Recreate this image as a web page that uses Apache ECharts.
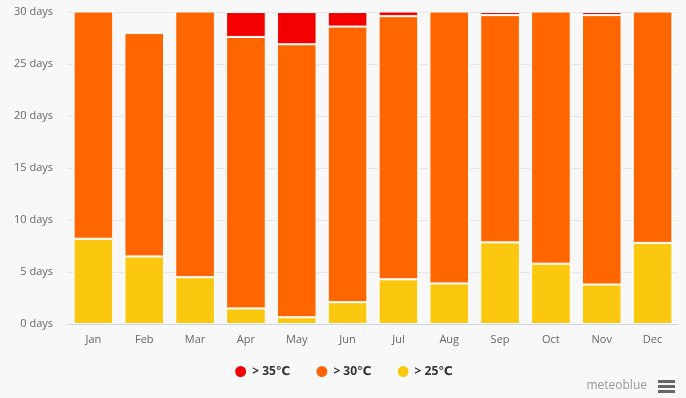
<!DOCTYPE html>
<html lang="en">
<head>
    <meta charset="UTF-8">
    <title>Hot days per month</title>
    <script src="https://cdn.jsdelivr.net/npm/echarts@6/dist/echarts.min.js"></script>
    <style>
        html, body { margin: 0; padding: 0; background: #f8f8f8; }
    </style>
</head>
<body>
    <div id="main" style="width: 686px;height: 398px"></div>
    <script type="text/javascript">
        var months = ['Jan', 'Feb', 'Mar', 'Apr', 'May', 'Jun', 'Jul', 'Aug', 'Sep', 'Oct', 'Nov', 'Dec'];
        // days per month above each threshold (stacked: yellow + orange + red)
        var over25 = [8.2, 6.5, 4.5, 1.5, 0.65, 2.1, 4.3, 3.9, 7.85, 5.8, 3.8, 7.8];
        var over30 = [22.8, 21.5, 26.5, 26.1, 26.25, 26.5, 25.3, 27.1, 21.85, 25.2, 25.9, 23.2];
        var over35 = [0, 0, 0, 2.4, 3.1, 1.4, 1.4, 0, 0.3, 0, 0.3, 0];
        var yTicks = [0, 5, 10, 15, 20, 25, 30];

        var myChart = echarts.init(document.getElementById('main'));

        var fontFamily = '"Open Sans", "DejaVu Sans", sans-serif';
        function barSeries(name, data, color) {
            return {
                name: name,
                type: 'bar',
                stack: 'days',
                barWidth: '78%',
                data: data,
                itemStyle: { color: color, borderColor: '#ffffff', borderWidth: 1 },
                emphasis: { disabled: true }
            };
        }

        var option = {
            backgroundColor: '#f8f8f8',
            animation: false,
            textStyle: { fontFamily: fontFamily },
            grid: { left: 68, right: 8, top: 12, bottom: 74 },
            legend: {
                data: ['> 35℃', '> 30℃', '> 25℃'],
                left: 'center',
                top: 359,
                icon: 'circle',
                itemWidth: 13,
                itemHeight: 13,
                itemGap: 24,
                textStyle: { color: '#333333', fontSize: 12, fontWeight: 'bold', fontFamily: fontFamily }
            },
            xAxis: {
                type: 'category',
                data: months,
                axisLine: { lineStyle: { color: '#ccd6eb' } },
                axisTick: { show: false },
                axisLabel: { color: '#666666', fontSize: 11, margin: 10 }
            },
            yAxis: {
                type: 'value',
                min: yTicks[0],
                max: yTicks[yTicks.length - 1],
                interval: 5,
                axisLabel: {
                    color: '#666666', fontSize: 11, margin: 15,
                    formatter: function (v) { return v + ' days'; }
                },
                splitLine: { lineStyle: { color: '#e6e6e6' } }
            },
            series: [
                barSeries('> 25℃', over25, '#fcc80f'),
                barSeries('> 30℃', over30, '#ff6600'),
                barSeries('> 35℃', over35, '#f50000')
            ],
            graphic: [
                {
                    type: 'text', right: 39, top: 380,
                    style: { text: 'meteoblue', fill: '#999999', fontSize: 12, fontFamily: fontFamily }
                },
                { type: 'rect', left: 658, top: 380, shape: { width: 17, height: 3 }, style: { fill: '#666666' } },
                { type: 'rect', left: 658, top: 385, shape: { width: 17, height: 3 }, style: { fill: '#666666' } },
                { type: 'rect', left: 658, top: 390, shape: { width: 17, height: 3 }, style: { fill: '#666666' } }
            ]
        };
        myChart.setOption(option);
    </script>
</body>
</html>
